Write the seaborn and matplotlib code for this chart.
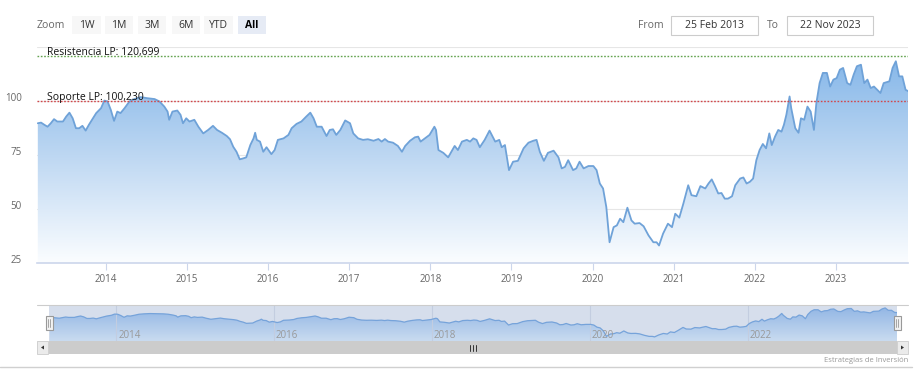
import numpy as np
import pandas as pd
import matplotlib.pyplot as plt
import matplotlib.patches as mpatches
from matplotlib.lines import Line2D
from matplotlib.colors import LinearSegmentedColormap
import seaborn as sns

## price series (decimal years, index value)
years = [2013.16, 2013.20, 2013.24, 2013.28, 2013.32, 2013.36, 2013.40, 2013.47, 2013.51, 2013.55,
         2013.59, 2013.63, 2013.67, 2013.71, 2013.75, 2013.79, 2013.84, 2013.88, 2013.94, 2013.98,
         2014.02, 2014.06, 2014.10, 2014.14, 2014.18, 2014.23, 2014.29, 2014.35, 2014.43, 2014.51,
         2014.60, 2014.66, 2014.72, 2014.76, 2014.78, 2014.82, 2014.88, 2014.92, 2014.95, 2014.99,
         2015.03, 2015.09, 2015.14, 2015.20, 2015.26, 2015.32, 2015.37, 2015.43, 2015.49, 2015.53,
         2015.57, 2015.61, 2015.65, 2015.69, 2015.73, 2015.78, 2015.82, 2015.84, 2015.86, 2015.90,
         2015.94, 2015.98, 2016.04, 2016.08, 2016.12, 2016.19, 2016.25, 2016.29, 2016.35, 2016.41,
         2016.47, 2016.52, 2016.56, 2016.60, 2016.66, 2016.72, 2016.76, 2016.80, 2016.84, 2016.89,
         2016.95, 2017.01, 2017.05, 2017.11, 2017.17, 2017.23, 2017.30, 2017.36, 2017.40, 2017.44,
         2017.48, 2017.54, 2017.60, 2017.65, 2017.69, 2017.75, 2017.81, 2017.85, 2017.88, 2017.93,
         2017.99, 2018.05, 2018.07, 2018.10, 2018.16, 2018.22, 2018.26, 2018.30, 2018.34, 2018.39,
         2018.45, 2018.49, 2018.53, 2018.57, 2018.61, 2018.67, 2018.73, 2018.80, 2018.85, 2018.88,
         2018.92, 2018.97, 2019.02, 2019.08, 2019.15, 2019.21, 2019.27, 2019.31, 2019.35, 2019.40,
         2019.45, 2019.52, 2019.58, 2019.62, 2019.66, 2019.70, 2019.76, 2019.80, 2019.84, 2019.89,
         2019.95, 2020.01, 2020.05, 2020.09, 2020.13, 2020.17, 2020.21, 2020.26, 2020.30, 2020.34,
         2020.38, 2020.43, 2020.48, 2020.52, 2020.58, 2020.63, 2020.69, 2020.75, 2020.79, 2020.82,
         2020.87, 2020.90, 2020.93, 2020.98, 2021.02, 2021.07, 2021.12, 2021.18, 2021.22, 2021.28,
         2021.33, 2021.39, 2021.43, 2021.47, 2021.51, 2021.55, 2021.59, 2021.63, 2021.67, 2021.72,
         2021.76, 2021.82, 2021.86, 2021.90, 2021.94, 2021.98, 2022.02, 2022.06, 2022.10, 2022.14,
         2022.18, 2022.21, 2022.25, 2022.29, 2022.33, 2022.36, 2022.39, 2022.43, 2022.45, 2022.50,
         2022.54, 2022.57, 2022.61, 2022.65, 2022.69, 2022.73, 2022.76, 2022.80, 2022.84, 2022.89,
         2022.93, 2022.97, 2023.01, 2023.05, 2023.09, 2023.14, 2023.18, 2023.22, 2023.26, 2023.31,
         2023.35, 2023.39, 2023.43, 2023.47, 2023.51, 2023.55, 2023.59, 2023.66, 2023.70, 2023.74,
         2023.78, 2023.82, 2023.86, 2023.90]
values = [89.7, 90.0, 89.0, 88.1, 89.7, 91.6, 90.5, 90.5, 92.8, 94.6,
          92.0, 87.4, 87.4, 88.5, 86.3, 89.0, 92.0, 94.4, 96.7, 100.2,
          99.8, 95.9, 90.8, 95.1, 94.4, 96.7, 99.8, 100.9, 101.8, 101.3,
          100.9, 99.8, 97.4, 95.1, 91.3, 95.1, 95.6, 93.6, 89.7, 92.0,
          90.5, 91.3, 88.1, 85.0, 86.6, 88.5, 86.6, 85.3, 83.8, 82.3,
          78.8, 76.5, 73.0, 73.4, 73.9, 79.6, 82.7, 85.3, 82.0, 81.2,
          76.5, 78.6, 75.4, 77.3, 82.0, 82.7, 84.3, 87.4, 89.4, 90.5,
          92.8, 94.6, 92.0, 88.1, 88.1, 83.8, 86.6, 86.9, 84.3, 86.6,
          91.0, 89.7, 85.0, 82.7, 82.0, 82.3, 81.6, 82.4, 81.2, 82.4,
          81.2, 80.7, 79.2, 76.5, 79.2, 81.6, 83.2, 83.5, 81.2, 82.6,
          84.3, 88.1, 86.6, 77.3, 76.0, 73.9, 76.5, 79.2, 77.3, 81.2,
          82.0, 81.2, 82.7, 82.0, 78.6, 82.0, 86.3, 81.2, 82.0, 78.6,
          79.6, 68.0, 71.9, 72.3, 78.1, 80.7, 81.6, 82.0, 76.5, 72.3,
          76.0, 77.0, 73.9, 68.8, 69.5, 72.6, 68.0, 68.8, 71.9, 68.8,
          69.9, 69.9, 68.0, 61.8, 59.5, 50.9, 34.6, 41.6, 42.4, 45.5,
          43.9, 50.6, 44.7, 43.2, 43.5, 42.0, 37.8, 34.6, 34.6, 33.1,
          38.6, 40.9, 43.2, 41.6, 47.8, 46.0, 52.5, 61.0, 56.4, 55.9,
          60.6, 59.5, 61.8, 63.7, 60.6, 57.2, 57.4, 54.8, 54.8, 55.9,
          61.0, 64.1, 64.6, 61.8, 62.6, 64.1, 72.6, 77.3, 80.1, 78.1,
          85.0, 79.6, 83.5, 86.6, 85.8, 89.0, 93.6, 102.1, 96.7, 87.4,
          85.3, 92.0, 91.3, 97.4, 95.1, 86.6, 99.0, 108.3, 113.0, 113.0,
          106.7, 109.9, 110.6, 114.5, 115.3, 108.3, 107.5, 112.2, 116.1, 116.8,
          108.3, 109.9, 106.0, 106.7, 105.2, 103.7, 108.3, 109.1, 115.3, 118.4,
          111.4, 111.4, 105.2, 104.4]

resistencia = 120.699
soporte = 100.230
resistencia_label = 'Resistencia LP: 120,699'
soporte_label = 'Soporte LP: 100,230'

year_ticks = list(range(2014, 2024))
nav_ticks = [2014, 2016, 2018, 2020, 2022]
y_ticks = [25, 50, 75, 100, 125]
y_labels = ['25', '50', '75', '100', '']
zoom_buttons = ['1W', '1M', '3M', '6M', 'YTD', 'All']
date_from = '25 Feb 2013'
date_to = '22 Nov 2023'
x_start, x_end = 2013.15, 2023.89
credits = 'Estrategias de Inversión'

## figure setup
W, H = 919, 383
sns.set_theme(style='white')
plt.rcParams['font.family'] = ['Open Sans', 'DejaVu Sans']
fig = plt.figure(figsize=(W / 100, H / 100), dpi=100)


def box(l, t, r, b):
    return [l / W, 1 - b / H, (r - l) / W, (b - t) / H]


def fx(x):
    return x / W


def fy(y):
    return 1 - y / H


df = pd.DataFrame({'year': years, 'value': values})

## main chart
ax = fig.add_axes(box(37, 47, 908, 263))
area = ax.fill_between(df['year'], df['value'], 25, color='none', lw=0)
grad = np.linspace(1, 0, 256).reshape(-1, 1)
cmap = LinearSegmentedColormap.from_list('area', ['#fbfdff', '#bdd7f2', '#7fb3e8'])
im = ax.imshow(grad, extent=[x_start, x_end, 25, 125], aspect='auto', cmap=cmap,
               origin='upper', zorder=1, interpolation='bilinear')
im.set_clip_path(area.get_paths()[0], transform=ax.transData)
sns.lineplot(data=df, x='year', y='value', ax=ax, color='#6fa2d8', lw=1.3, zorder=3)

ax.axhline(resistencia, color='#62a34f', ls=(0, (1.2, 1.2)), lw=1.0, zorder=4)
ax.axhline(soporte, color='#d2474b', ls=(0, (1.2, 1.2)), lw=1.0, zorder=4)
ax.annotate(resistencia_label, xy=(0, resistencia), xycoords=('axes fraction', 'data'),
            xytext=(10, 1), textcoords='offset pixels', fontsize=7.5, color='#111', zorder=5)
ax.annotate(soporte_label, xy=(0, soporte), xycoords=('axes fraction', 'data'),
            xytext=(10, 1), textcoords='offset pixels', fontsize=7.5, color='#111', zorder=5)

ax.set_xlim(x_start, x_end)
ax.set_ylim(25, 125)
ax.set_yticks(y_ticks)
ax.set_yticklabels(y_labels)
for lab in ax.get_yticklabels():
    lab.set_verticalalignment('baseline')
ax.set_xticks(year_ticks)
ax.set_xticklabels([str(y) for y in year_ticks])
ax.tick_params(axis='y', length=0, pad=11, labelsize=7, labelcolor='#666')
ax.tick_params(axis='x', length=5, width=0.8, color='#ccd6eb', pad=3,
               labelsize=7, labelcolor='#666', bottom=True)
ax.grid(axis='y', color='#e6e6e6', lw=0.8)
ax.grid(axis='x', visible=False)
ax.set_axisbelow(True)
ax.set_xlabel('')
ax.set_ylabel('')
for s in ['top', 'left', 'right']:
    ax.spines[s].set_visible(False)
ax.spines['bottom'].set_color('#ccd6eb')
ax.spines['bottom'].set_linewidth(1.2)

## navigator
nav = fig.add_axes(box(49, 305, 897, 341))
nav.set_facecolor('#d6deec')
nav_area = nav.fill_between(df['year'], df['value'], 0, color='none', lw=0)
ncmap = LinearSegmentedColormap.from_list('nav', ['#c9dbf0', '#8fb4e4'])
nim = nav.imshow(grad, extent=[x_start, x_end, 21, 127], aspect='auto', cmap=ncmap,
                 origin='upper', zorder=1, interpolation='bilinear')
nim.set_clip_path(nav_area.get_paths()[0], transform=nav.transData)
sns.lineplot(data=df, x='year', y='value', ax=nav, color='#76a3da', lw=0.9, zorder=3)
nav.set_xlim(x_start, x_end)
nav.set_ylim(21, 127)
for t in nav_ticks:
    nav.axvline(t, color='#c3cde0', lw=0.8, zorder=2)
    nav.annotate(str(t), xy=(t, 0), xycoords=('data', 'axes fraction'), xytext=(2, 3),
                 textcoords='offset pixels', fontsize=7, color='#999', zorder=4)
nav.set_xticks([])
nav.set_yticks([])
nav.set_xlabel('')
nav.set_ylabel('')
for s in nav.spines.values():
    s.set_visible(False)

## navigator outline and handles
fig.add_artist(Line2D([fx(37), fx(908)], [fy(305), fy(305)], color='#cccccc', lw=0.8))
for hx in [49, 897]:
    fig.add_artist(mpatches.Rectangle((fx(hx - 3.5), fy(330)), 7 / W, 14 / H,
                                      facecolor='#f2f2f2', edgecolor='#999', lw=0.8))
    for dx in [-1, 1]:
        fig.add_artist(Line2D([fx(hx + dx), fx(hx + dx)], [fy(319), fy(327)], color='#999', lw=0.6))

## scrollbar
fig.add_artist(mpatches.Rectangle((fx(37), fy(354)), 871 / W, 13 / H,
                                  facecolor='#f2f2f2', edgecolor='#f2f2f2', lw=0))
fig.add_artist(mpatches.Rectangle((fx(49), fy(354)), 848 / W, 13 / H,
                                  facecolor='#cccccc', edgecolor='#cccccc', lw=0))
for bx0, direction in [(37, -1), (897, 1)]:
    fig.add_artist(mpatches.Rectangle((fx(bx0), fy(354)), 11 / W, 13 / H,
                                      facecolor='#ebebeb', edgecolor='#cccccc', lw=0.6))
    cx = bx0 + 5.5
    tri = [(fx(cx + 1.5 * direction), fy(347.5)),
           (fx(cx - 1.5 * direction), fy(345.5)),
           (fx(cx - 1.5 * direction), fy(349.5))]
    fig.add_artist(mpatches.Polygon(tri, closed=True, facecolor='#333', edgecolor='none'))
for gx in [470, 473, 476]:
    fig.add_artist(Line2D([fx(gx), fx(gx)], [fy(344.5), fy(350.5)], color='#333', lw=0.7))

## credits and bottom rule
fig.text(fx(908), fy(360), credits, ha='right', va='center', fontsize=5.5, color='#999')
fig.add_artist(Line2D([0, fx(912)], [fy(367), fy(367)], color='#d0d0d0', lw=1))

## range selector
fig.text(fx(37), fy(25), 'Zoom', ha='left', va='center', fontsize=7.5, color='#666')
btn_edges = [(72, 101), (105, 133), (138, 166), (172, 200), (204, 233), (238, 266)]
for label, (l, r) in zip(zoom_buttons, btn_edges):
    active = label == 'All'
    fig.add_artist(mpatches.Rectangle((fx(l), fy(34)), (r - l) / W, 18 / H,
                                      facecolor='#e6ebf5' if active else '#f7f7f7',
                                      edgecolor='none'))
    fig.text(fx((l + r) / 2), fy(25), label, ha='center', va='center', fontsize=7.5,
             color='#000' if active else '#333', fontweight='bold' if active else 'normal')

fig.text(fx(638), fy(25), 'From', ha='left', va='center', fontsize=7.5, color='#666')
fig.text(fx(767), fy(25), 'To', ha='left', va='center', fontsize=7.5, color='#666')
for (l, r), txt in [((671, 758), date_from), ((787, 873), date_to)]:
    fig.add_artist(mpatches.Rectangle((fx(l), fy(35)), (r - l) / W, 19 / H,
                                      facecolor='white', edgecolor='#cccccc', lw=0.8))
    fig.text(fx((l + r) / 2), fy(25), txt, ha='center', va='center', fontsize=7.5, color='#333')

fig.savefig('out.png', dpi=100)
